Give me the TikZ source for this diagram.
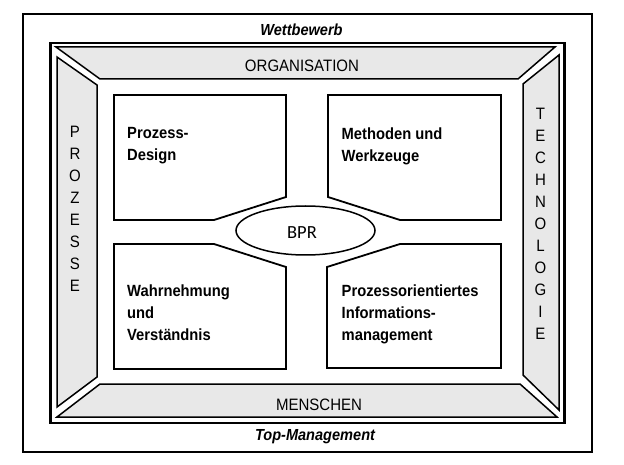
\documentclass[tikz,border=0pt]{standalone}
\usepackage{fontspec}
\usetikzlibrary{shapes.geometric}
\setmainfont[FakeStretch=0.91]{Liberation Sans}
\newfontfamily\bprfont{Carlito}
\begin{document}
\begin{tikzpicture}[x=1pt,y=-1pt,
  band/.style={draw=black,line width=1.5pt,fill=black!9,line join=miter},
  field/.style={draw=black,line width=1.8pt,fill=white,line join=miter},
  boxtext/.style={anchor=north west,inner sep=0pt,align=left,font=\bfseries\fontsize{16.2}{22}\selectfont},
  bandtext/.style={inner sep=0pt,font=\fontsize{16.5}{22}\selectfont},
  vtext/.style={anchor=north,inner sep=0pt,align=center,font=\fontsize{16.5}{22}\selectfont},
  frametext/.style={inner sep=0pt,font=\bfseries\itshape\fontsize{16}{17}\selectfont}]
\useasboundingbox (0,0) rectangle (624,465);
% frames
\draw[line width=2pt] (22.5,14.5) rectangle (591.5,451.5);
\draw[line width=2.6pt] (50.5,43) rectangle (564.5,423);
% bands
\draw[band] (56,47) -- (555,47) -- (518,79) -- (100,79) -- cycle;
\draw[band] (559,55) -- (559,410) -- (523,375) -- (523,84) -- cycle;
\draw[band] (57,417) -- (557,417) -- (520,384) -- (100,384) -- cycle;
\draw[band] (57,57) -- (97,85) -- (97,377) -- (57,407) -- cycle;
% fields
\draw[field] (114,95) -- (286,95) -- (286,197) -- (214,220) -- (114,220) -- cycle;
\draw[field] (328,95) -- (501,95) -- (501,220) -- (400,220) -- (328,197) -- cycle;
\draw[field] (114,244) -- (214,244) -- (286,267) -- (286,369) -- (114,369) -- cycle;
\draw[field] (400,244) -- (501,244) -- (501,368) -- (327,368) -- (327,267) -- cycle;
% ellipse
\node[draw=black,line width=1.5pt,ellipse,minimum width=139pt,minimum height=49pt,inner sep=0pt] (bpr) at (305.5,230.5) {};
\node[inner sep=0pt,font=\bprfont\fontsize{18.5}{20}\selectfont] (bprt) at (302,232.5) {BPR};
% texts
\node[boxtext] (t1) at (127,127.5) {Prozess-\\Design};
\node[boxtext] (t2) at (341.5,128) {Methoden und\\Werkzeuge};
\node[boxtext] (t3) at (127,285) {Wahrnehmung\\und\\Verständnis};
\node[boxtext] (t4) at (341.5,285) {Prozessorientiertes\\Informations-\\management};
\node[bandtext] (org) at (302,65.5) {ORGANISATION};
\node[bandtext] (men) at (319,404.5) {MENSCHEN};
\node[vtext] (pro) at (75,126) {P\\R\\O\\Z\\E\\S\\S\\E};
\node[vtext] (tec) at (540.5,108) {T\\E\\C\\H\\N\\O\\L\\O\\G\\I\\E};
\node[frametext] (wet) at (301.5,29.5) {Wettbewerb};
\node[frametext] (top) at (315,437) {Top-Management};
\end{tikzpicture}
\end{document}
